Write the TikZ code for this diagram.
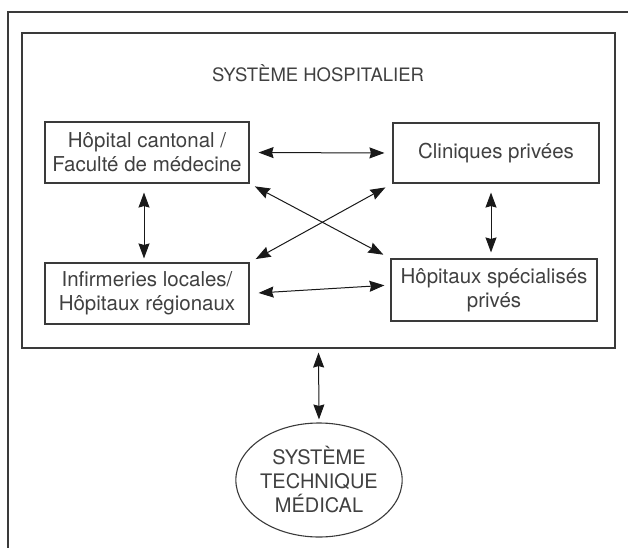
\documentclass[tikz,border=0pt]{standalone}
\usepackage{fontspec}
\setmainfont{TeX Gyre Heros}
\usepackage{tikz}
\usetikzlibrary{shapes,arrows.meta}

\definecolor{trait}{HTML}{3A3A3A}
\definecolor{texte}{HTML}{404040}

\tikzset{
	boite/.style={rectangle,draw=trait,line width=1.1pt,inner sep=0pt,align=center,text=texte,
		font=\fontsize{20.5}{24}\selectfont},
	pointe/.tip={Stealth[length=15pt,width=11pt,inset=1.5pt]},
	fleche/.style={pointe-pointe,line width=1pt,draw=black!90}
}

\begin{document}
\begin{tikzpicture}[x=1pt,y=-1pt]
	
		\useasboundingbox (0,0) rectangle (628,548);
		\draw[trait,line width=1.2pt] (628,12) -- (8,12) -- (8,548);
		
		\node[boite,minimum width=593pt,minimum height=315pt] (hosp) at (318.5,190.5) {};
		\node[text=texte,font=\fontsize{18.5}{24}\selectfont] (titre) at (318,73) {SYSTÈME HOSPITALIER};
		
		\node[boite,minimum width=204pt,minimum height=61pt] (cant) at (147,152.5) {Hôpital cantonal /\\Faculté de médecine};
		\node[boite,minimum width=206pt,minimum height=60pt] (clin) at (496,153) {Cliniques privées};
		\node[boite,minimum width=204pt,minimum height=61pt] (infi) at (147,293.5) {Infirmeries locales/\\Hôpitaux régionaux};
		\node[boite,minimum width=206pt,minimum height=62pt] (spec) at (494,290) {Hôpitaux spécialisés\\privés};
		
		\node[ellipse,draw=trait,line width=1.1pt,minimum width=154pt,minimum height=114pt,inner sep=0pt,
			align=center,text=texte,font=\fontsize{20}{24}\selectfont] (tech) at (319,480) {SYSTÈME\\TECHNIQUE\\MÉDICAL};
		
		\draw[fleche,shorten <=9pt,shorten >=8pt] (cant.east) -- (clin.west);
		\draw[fleche,shorten <=9pt,shorten >=6pt] (infi.east) -- ([yshift=5pt]spec.west);
		\draw[fleche,shorten <=6pt,shorten >=8pt] (cant.south east) -- (spec.north west);
		\draw[fleche,shorten <=7pt,shorten >=8pt] (infi.north east) -- (clin.south west);
		\draw[fleche,shorten <=9pt,shorten >=4pt] ([xshift=-3pt]cant.south) -- ([xshift=-3pt]infi.north);
		\draw[fleche,shorten <=9pt,shorten >=6pt] ([xshift=-5pt]clin.south) -- ([xshift=-3pt]spec.north);
		\draw[fleche,shorten <=4pt,shorten >=3pt] (hosp.south) -- (tech.north);
		
	\end{tikzpicture}
\end{document}
